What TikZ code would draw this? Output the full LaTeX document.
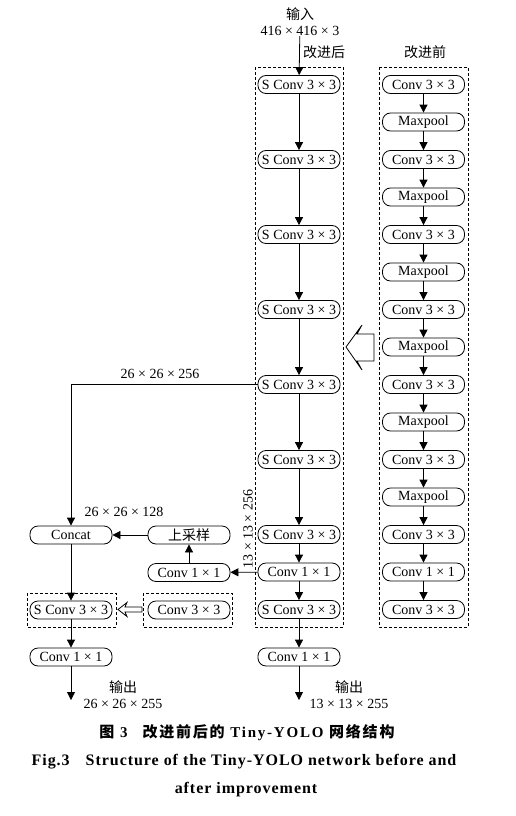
\documentclass[tikz,border=0pt]{standalone}
\usepackage{fontspec}
\setmainfont{Liberation Serif}
\newfontfamily\cjk{Noto Sans CJK SC}
\newfontfamily\cjkcap[LetterSpace=12]{Noto Sans CJK SC}
\usetikzlibrary{arrows.meta}
\begin{document}
\begin{tikzpicture}[x=1pt,y=-1pt,
  blk/.style={draw, rounded corners=8pt, minimum width=82pt, minimum height=18pt, inner sep=0pt, font=\fontsize{14}{16}\selectfont, line width=0.8pt},
  grp/.style={draw, dash pattern=on 3pt off 2pt, line width=0.8pt},
  arr/.style={-{Triangle[length=8pt,width=8pt]}, line width=0.8pt},
  lbl/.style={font=\fontsize{14}{16}\selectfont, inner sep=0pt, align=center},
  hollow/.style={draw, line width=0.8pt, fill=white, line join=miter}
]
\useasboundingbox (0,0) rectangle (516,816);
% dashed group frames
\draw[grp] (255,67) rectangle (343,627);
\draw[grp] (379,67) rectangle (468,627);
\draw[grp] (27,593) rectangle (116,627);
\draw[grp] (143,593) rectangle (232,627);
% right column (before)
\foreach \i/\t in {0/Conv 3 × 3,1/Maxpool,2/Conv 3 × 3,3/Maxpool,4/Conv 3 × 3,5/Maxpool,6/Conv 3 × 3,7/Maxpool,8/Conv 3 × 3,9/Maxpool,10/Conv 3 × 3,11/Maxpool,12/Conv 3 × 3,13/Conv 1 × 1,14/Conv 3 × 3}
  \node[blk] (r\i) at (423.5,84.5+37.5*\i) {\t};
\foreach \i in {0,...,13}{
  \pgfmathtruncatemacro{\j}{\i+1}
  \draw[arr] (r\i) -- (r\j);
}
% middle column (after)
\foreach \i in {0,...,6}
  \node[blk] (m\i) at (299,84.5+75*\i) {S Conv 3 × 3};
\node[blk] (m7) at (299,572) {Conv 1 × 1};
\node[blk] (m8) at (299,609.5) {S Conv 3 × 3};
\node[blk] (mo) at (299,657) {Conv 1 × 1};
\foreach \i in {0,...,7}{
  \pgfmathtruncatemacro{\j}{\i+1}
  \draw[arr] (m\i) -- (m\j);
}
\draw[arr] (m8) -- (mo);
\coordinate (mend) at (299,700);
\draw[arr] (mo) -- (mend);
\node[lbl] (in) at (300,22) {{\cjk 输入}\\416 × 416 × 3};
\draw[arr] (in) -- (m0);
\node[lbl] (after) at (324,52) {\cjk 改进后};
\node[lbl] (before) at (425,52) {\cjk 改进前};
\node[lbl] (out1) at (349,695) {{\cjk 输出}\\13 × 13 × 255};
% left branch
\node[blk] (concat) at (71,535) {Concat};
\node[blk] (up) at (189,535) {\cjk 上采样};
\node[blk] (c11) at (189,572.5) {Conv 1 × 1};
\node[blk] (ls) at (71,610) {S Conv 3 × 3};
\node[blk] (lc) at (189,610) {Conv 3 × 3};
\node[blk] (lo) at (71,657) {Conv 1 × 1};
\coordinate (lend) at (71,700);
\draw[arr] (m4.west) -| (concat.north);
\draw[arr] (m7) -- (c11);
\draw[arr] (c11) -- (up);
\draw[arr] (up) -- (concat);
\draw[arr] (concat) -- (ls);
\draw[arr] (ls) -- (lo);
\draw[arr] (lo) -- (lend);
\node[lbl] (l256) at (160,374) {26 × 26 × 256};
\node[lbl] (l128) at (124,512) {26 × 26 × 128};
\node[lbl, rotate=90] (l13) at (248,529) {13 × 13 × 256};
\node[lbl] (out2) at (123,695) {{\cjk 输出}\\26 × 26 × 255};
% hollow arrows
\draw[hollow] (346,347) -- (362,325) -- (357,334) -- (374,334) -- (374,361) -- (357,361) -- (362,370) -- cycle;
\draw[hollow] (118,609.5) -- (127,602.5) -- (125,607) -- (142,607) -- (142,612) -- (125,612) -- (127,616.5) -- cycle;
% caption
\node[font=\fontsize{15}{17}\selectfont\bfseries\addfontfeature{LetterSpace=12}, inner sep=0pt] (cap1) at (247,733) {{\cjkcap 图} 3\quad{\cjkcap 改进前后的} Tiny-YOLO {\cjkcap 网络结构}};
\node[font=\fontsize{16}{18}\selectfont\bfseries\addfontfeature{LetterSpace=6}, inner sep=0pt] (cap2) at (244,762) {Fig.3\quad Structure of the Tiny-YOLO network before and};
\node[font=\fontsize{16}{18}\selectfont\bfseries\addfontfeature{LetterSpace=6}, inner sep=0pt] (cap3) at (246,790) {after improvement};
\end{tikzpicture}
\end{document}
